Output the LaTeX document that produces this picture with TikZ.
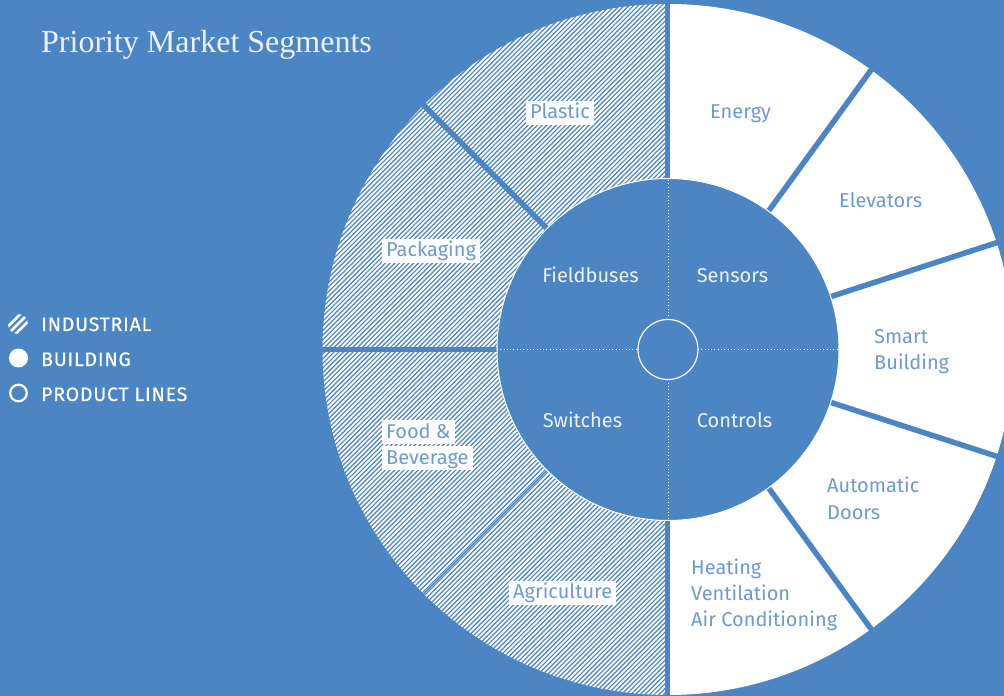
\documentclass[tikz,border=0pt]{standalone}
\usepackage{fontspec}
\newfontfamily\dinlight{Fira Sans}
\newfontfamily\dinmed{Fira Sans}[FakeBold=0.6, LetterSpace=4]
\newfontfamily\titlefont{Liberation Serif}
\definecolor{bg}{RGB}{75,133,196}
\definecolor{lbl}{RGB}{108,154,214}
\definecolor{soft}{RGB}{236,242,250}
\tikzset{
  seglabel/.style={font=\dinlight\fontsize{20}{26}\selectfont, text=lbl, anchor=base west, inner sep=0pt},
  corelabel/.style={font=\dinlight\fontsize{20}{26}\selectfont, text=soft, anchor=base, inner sep=0pt},
  taglabel/.style={font=\dinlight\fontsize{20}{26}\selectfont, text=lbl, fill=white, anchor=base west,
                   inner xsep=4pt, inner ysep=3.5pt, text height=14.5pt, text depth=2.5pt},
  legendlabel/.style={font=\dinmed\fontsize{19.5}{24}\selectfont, text=white, anchor=base west, inner sep=0pt},
  divider/.style={draw=bg, line width=5.5pt},
  thindivider/.style={draw=bg, line width=1.2pt},
  hatchline/.style={draw=white, line width=1.8pt},
  axisdots/.style={draw=white, line width=0.9pt, dash pattern=on 0.9pt off 2.4pt},
}
\begin{document}
\begin{tikzpicture}[x=1pt,y=1pt]
  % background / bounding box
  \fill[bg] (-668,-346.5) rectangle (336,349.5);
  \useasboundingbox (-668,-346.5) rectangle (336,349.5);

  % building half ring (white)
  \fill[white] (90:345.5) arc[start angle=90,end angle=-90,radius=345.5]
     -- (-90:171) arc[start angle=-90,end angle=90,radius=171] -- cycle;

  % industrial half ring (hatched)
  \begin{scope}
    \clip (90:345.5) arc[start angle=90,end angle=270,radius=345.5]
       -- (270:171) arc[start angle=270,end angle=90,radius=171] -- cycle;
    \foreach \i in {-150,...,78} {
      \draw[hatchline] ({\i*4.7-400},-400) -- ++(800,800);
    }
  \end{scope}

  % dividers between segments
  \foreach \a in {54,18,-18,-54,135,180} {
    \draw[divider] (\a:160) -- (\a:360);
  }
  \draw[thindivider] (225:160) -- (225:360);
  \draw[draw=bg, line width=5pt] (0,160) -- (0,360);
  \draw[draw=bg, line width=5pt] (0,-160) -- (0,-360);

  % product lines core
  \filldraw[fill=bg, draw=white, line width=1pt] (0,0) circle[radius=171];
  \draw[axisdots] (-171,0) -- (-30,0);
  \draw[axisdots] (30,0) -- (171,0);
  \draw[axisdots] (0,30) -- (0,171);
  \draw[axisdots] (0,-30) -- (0,-171);
  \filldraw[fill=bg, draw=white, line width=1.2pt] (0,0) circle[radius=30];

  % title
  \node[font=\titlefont\fontsize{32}{36}\selectfont, text=soft, anchor=base west, inner sep=0pt]
     (title) at (-627,296.5) {Priority Market Segments};

  % building labels
  \node[seglabel] (energy) at (42,230.5) {Energy};
  \node[seglabel] (elevators) at (171,142.2) {Elevators};
  \node[seglabel] (smart1) at (206,6.2) {Smart};
  \node[seglabel] (smart2) at (206,-19.8) {Building};
  \node[seglabel] (auto1) at (159,-142.5) {Automatic};
  \node[seglabel] (auto2) at (159,-169.5) {Doors};
  \node[seglabel] (hvac1) at (23,-224.5) {Heating};
  \node[seglabel] (hvac2) at (23,-250.5) {Ventilation};
  \node[seglabel] (hvac3) at (23,-276.5) {Air Conditioning};

  % industrial labels
  \node[taglabel] (plastic) at (-142,230.5) {Plastic};
  \node[taglabel] (packaging) at (-286,92.8) {Packaging};
  \node[taglabel] (food1) at (-286,-88.8) {Food \&};
  \node[taglabel] (food2) at (-286,-114.8) {Beverage};
  \node[taglabel] (agri) at (-159,-249.2) {Agriculture};

  % product line labels
  \node[corelabel] (fieldbuses) at (-77.5,67) {Fieldbuses};
  \node[corelabel] (sensors) at (64.5,67) {Sensors};
  \node[corelabel] (switches) at (-85.5,-78) {Switches};
  \node[corelabel] (controls) at (66.5,-78) {Controls};

  % legend
  \begin{scope}
    \clip (-650,25.5) circle[radius=10];
    \foreach \k in {-1,0,1} {
      \draw[draw=white, line width=2.8pt] ({-650+\k*7.5-15},{25.5-15}) -- ++(30,30);
    }
  \end{scope}
  \fill[white] (-649.5,-8.5) circle[radius=9.5];
  \draw[white, line width=2.2pt] (-649.5,-43.5) circle[radius=8.3];
  \node[legendlabel] (leg1) at (-627,18.5) {INDUSTRIAL};
  \node[legendlabel] (leg2) at (-627,-16.5) {BUILDING};
  \node[legendlabel] (leg3) at (-627,-51.5) {PRODUCT LINES};
\end{tikzpicture}
\end{document}
